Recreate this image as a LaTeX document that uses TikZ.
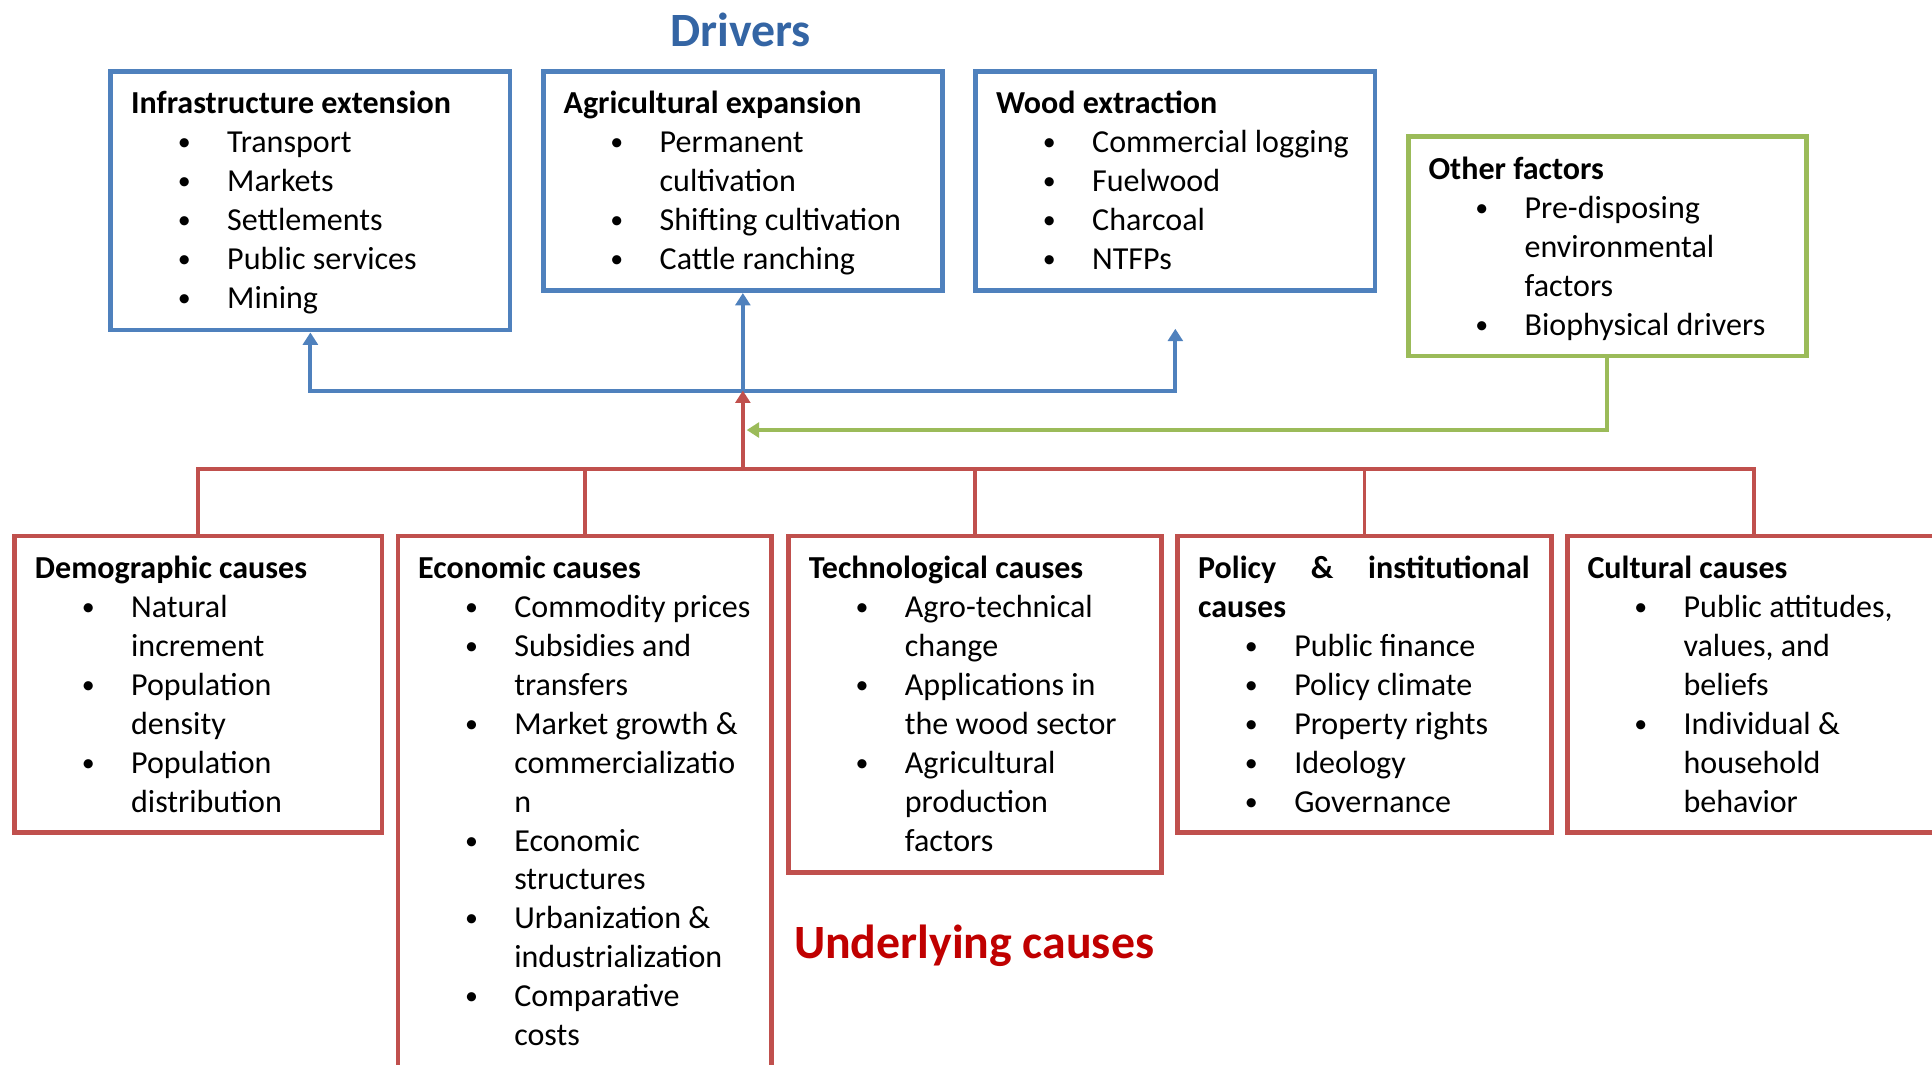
\documentclass[tikz,border=0pt]{standalone}
\usepackage{fontspec}
\setmainfont{Carlito}
\usetikzlibrary{arrows.meta}
\definecolor{drvblue}{HTML}{4F81BD}
\definecolor{drvtitle}{HTML}{3465A4}
\definecolor{causered}{HTML}{C0504D}
\definecolor{causetitle}{HTML}{C00000}
\definecolor{othgreen}{HTML}{9BBB59}
\newcommand{\boxhead}[1]{\textbf{#1}\par}
\newcommand{\bitem}[1]{\hangindent=39pt\hangafter=1\noindent\hspace*{19pt}\makebox[20pt][l]{\raisebox{0.8pt}{\fontsize{10.5}{10}\selectfont\textbullet}}#1\par}
\newcommand{\boxtext}[1]{\parbox[t]{150pt}{\fontsize{13}{15.8}\selectfont\raggedright #1}}
\tikzset{
   drvbox/.style ={
      rectangle, draw=drvblue, line width=1.9pt, anchor=north west, inner sep=0pt,
   },
   othbox/.style ={
      rectangle, draw=othgreen, line width=1.9pt, anchor=north west, inner sep=0pt,
   },
   causebox/.style ={
      rectangle, draw=causered, line width=1.9pt, anchor=north west, inner sep=0pt,
   },
   boxtxt/.style ={
      anchor=base west, inner sep=0pt,
   },
   bigtitle/.style ={
      font=\fontsize{19.4}{23}\selectfont\bfseries, inner sep=0pt,
   },
   bluearrow/.style ={
      -{Triangle[length=5pt,width=6pt]}, line width=1.6pt, color=drvblue,
   },
   greenarrow/.style ={
      -{Triangle[length=5pt,width=6pt]}, line width=1.6pt, color=othgreen,
   },
   redarrow/.style ={
      -{Triangle[length=5pt,width=6pt]}, line width=1.6pt, color=causered,
   },
   redline/.style ={
      -, line width=1.6pt, color=causered,
   },
}
\begin{document}
\begin{tikzpicture}[x=0.5pt, y=-0.5pt]

      \useasboundingbox (0,0) rectangle (1568,864);

      \node[bigtitle, text=drvtitle, anchor=base] (drivers) at (601,38) {Drivers};

      \node[drvbox, minimum width=162pt, minimum height=105pt] (infra) at (88,56) {};
      \node[drvbox, minimum width=162pt, minimum height=89pt] (agri) at (439,56) {};
      \node[drvbox, minimum width=162pt, minimum height=89pt] (wood) at (790,56) {};
      \node[othbox, minimum width=161.5pt, minimum height=89pt] (other) at (1141,109) {};

      \node[boxtxt] (infratxt) at ([xshift=9pt,yshift=-18.25pt]infra.north west) {\boxtext{%
         \boxhead{Infrastructure extension}
         \bitem{Transport}
         \bitem{Markets}
         \bitem{Settlements}
         \bitem{Public services}
         \bitem{Mining}}};
      \node[boxtxt] (agritxt) at ([xshift=9pt,yshift=-18.25pt]agri.north west) {\boxtext{%
         \boxhead{Agricultural expansion}
         \bitem{Permanent\newline cultivation}
         \bitem{Shifting cultivation}
         \bitem{Cattle ranching}}};
      \node[boxtxt] (woodtxt) at ([xshift=9pt,yshift=-18.25pt]wood.north west) {\boxtext{%
         \boxhead{Wood extraction}
         \bitem{Commercial logging}
         \bitem{Fuelwood}
         \bitem{Charcoal}
         \bitem{NTFPs}}};
      \node[boxtxt] (othertxt) at ([xshift=9pt,yshift=-18.25pt]other.north west) {\boxtext{%
         \boxhead{Other factors}
         \bitem{Pre-disposing\newline environmental\newline factors}
         \bitem{Biophysical drivers}}};

      \node[causebox, minimum width=149pt, minimum height=120.5pt] (demo) at (10,433) {};
      \node[causebox, minimum width=151.5pt, minimum height=230pt] (econ) at (321,433) {};
      \node[causebox, minimum width=151.5pt, minimum height=136.5pt] (tech) at (638,433) {};
      \node[causebox, minimum width=151.5pt, minimum height=120.5pt] (policy) at (954,433) {};
      \node[causebox, minimum width=151.5pt, minimum height=120.5pt] (culture) at (1270,433) {};

      \node[boxtxt] (demotxt) at ([xshift=9pt,yshift=-18.25pt]demo.north west) {\boxtext{%
         \boxhead{Demographic causes}
         \bitem{Natural\newline increment}
         \bitem{Population\newline density}
         \bitem{Population\newline distribution}}};
      \node[boxtxt] (econtxt) at ([xshift=9pt,yshift=-18.25pt]econ.north west) {\boxtext{%
         \boxhead{Economic causes}
         \bitem{Commodity prices}
         \bitem{Subsidies and\newline transfers}
         \bitem{Market growth \&\newline commercializatio\newline n}
         \bitem{Economic\newline structures}
         \bitem{Urbanization \&\newline industrialization}
         \bitem{Comparative\newline costs}}};
      \node[boxtxt] (techtxt) at ([xshift=9pt,yshift=-18.25pt]tech.north west) {\boxtext{%
         \boxhead{Technological causes}
         \bitem{Agro-technical\newline change}
         \bitem{Applications in\newline the wood sector}
         \bitem{Agricultural\newline production\newline factors}}};
      \node[boxtxt] (policytxt) at ([xshift=9pt,yshift=-18.25pt]policy.north west) {\boxtext{%
         \noindent\makebox[134.5pt][s]{\textbf{Policy\hfill\&\hfill institutional}}\par
         \boxhead{causes}
         \bitem{Public finance}
         \bitem{Policy climate}
         \bitem{Property rights}
         \bitem{Ideology}
         \bitem{Governance}}};
      \node[boxtxt] (culturetxt) at ([xshift=9pt,yshift=-18.25pt]culture.north west) {\boxtext{%
         \boxhead{Cultural causes}
         \bitem{Public attitudes,\newline values, and\newline beliefs}
         \bitem{Individual \&\newline household\newline behavior}}};

      \node[bigtitle, text=causetitle, anchor=base west] (underlying) at (644,778) {Underlying causes};

      \coordinate (hub) at (agri.south |- 0,317);
      \coordinate (bus) at (agri.south |- 0,381);
      \coordinate (gtip) at (606,349);
      \coordinate (woodtip) at ([yshift=-14.5pt]wood.south);

      \draw[bluearrow] (hub) -| (infra.south);
      \draw[bluearrow] (hub) -- (agri.south);
      \draw[bluearrow] (hub) -| (woodtip);
      \draw[redline] (demo.north) |- (bus) -| (culture.north);
      \foreach \b in {econ,tech,policy}
         \draw[redline] (\b.north) -- (\b.north |- bus);
      \draw[redarrow] (bus) -- (hub);
      \draw[greenarrow] (other.south) |- (gtip);

\end{tikzpicture}
\end{document}
